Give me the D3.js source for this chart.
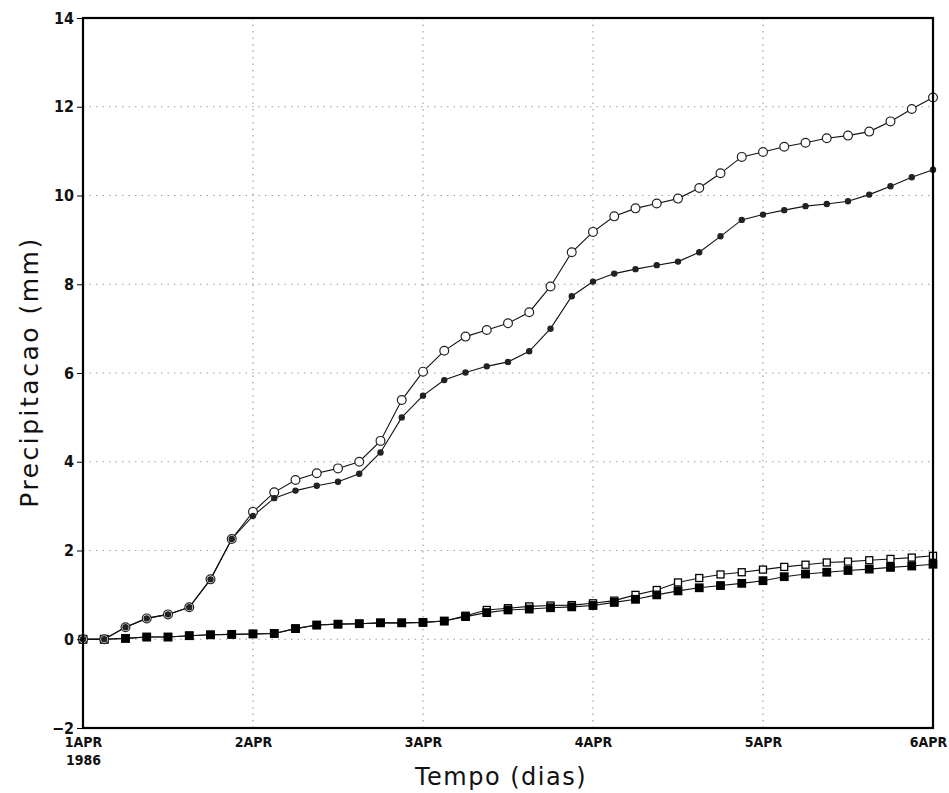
<!DOCTYPE html>
<html>
<head>
<meta charset="utf-8">
<script src="https://cdn.jsdelivr.net/npm/d3@7"></script>
<style>
  body { margin: 0; background: #fff; }
  svg { display: block; }
</style>
</head>
<body>
<div id="vis"></div>
<script>
// frame
const FRAME_WIDTH = 949;
const FRAME_HEIGHT = 793;
const MARGINS = {left: 83, right: 16, top: 18, bottom: 65};

// hours since 1APR 1986 00Z (3-hourly)
const HOURS = [0, 3, 6, 9, 12, 15, 18, 21, 24, 27, 30, 33, 36, 39, 42, 45, 48,
  51, 54, 57, 60, 63, 66, 69, 72, 75, 78, 81, 84, 87, 90, 93, 96, 99, 102,
  105, 108, 111, 114, 117, 120];

// accumulated precipitation (mm)
const OPEN_CIRCLE = [0, 0, 0.27, 0.47, 0.56, 0.72, 1.35, 2.26, 2.87, 3.31, 3.59,
  3.74, 3.85, 4.00, 4.47, 5.39, 6.03, 6.50, 6.82, 6.97, 7.12, 7.37, 7.95, 8.72,
  9.18, 9.53, 9.71, 9.82, 9.93, 10.17, 10.50, 10.87, 10.98, 11.10, 11.19,
  11.29, 11.35, 11.44, 11.67, 11.95, 12.21];
const FILLED_CIRCLE = [0, 0, 0.27, 0.47, 0.56, 0.72, 1.35, 2.26, 2.78, 3.18, 3.35,
  3.46, 3.55, 3.73, 4.21, 5.00, 5.49, 5.84, 6.01, 6.15, 6.25, 6.49, 7.00, 7.73,
  8.06, 8.24, 8.34, 8.43, 8.51, 8.72, 9.08, 9.45, 9.57, 9.67, 9.76, 9.81,
  9.87, 10.02, 10.21, 10.41, 10.58];
const OPEN_SQUARE = [0, 0, 0.02, 0.05, 0.05, 0.08, 0.10, 0.11, 0.12, 0.13, 0.24,
  0.32, 0.34, 0.35, 0.37, 0.37, 0.38, 0.41, 0.53, 0.66, 0.70, 0.74, 0.76, 0.77,
  0.81, 0.87, 1.00, 1.11, 1.28, 1.38, 1.46, 1.51, 1.57, 1.63, 1.68, 1.73,
  1.75, 1.78, 1.81, 1.84, 1.88];
const FILLED_SQUARE = [0, 0, 0.02, 0.05, 0.05, 0.08, 0.10, 0.11, 0.12, 0.13, 0.24,
  0.32, 0.34, 0.35, 0.37, 0.37, 0.38, 0.41, 0.51, 0.60, 0.66, 0.68, 0.71, 0.73,
  0.76, 0.83, 0.90, 1.00, 1.09, 1.16, 1.21, 1.26, 1.32, 1.41, 1.47, 1.51,
  1.55, 1.58, 1.62, 1.65, 1.69];

// axis ticks
const Y_TICKS = [-2, 0, 2, 4, 6, 8, 10, 12, 14];
const Y_GRID = [0, 2, 4, 6, 8, 10, 12];
const X_TICKS = [0, 24, 48, 72, 96, 120];
const X_TICK_LABELS = ["1APR", "2APR", "3APR", "4APR", "5APR", "6APR"];
const X_GRID = [24, 48, 72, 96];

const VIS_WIDTH = FRAME_WIDTH - MARGINS.left - MARGINS.right;
const VIS_HEIGHT = FRAME_HEIGHT - MARGINS.top - MARGINS.bottom;
const TICK_FONT = "'DejaVu Sans Condensed', 'DejaVu Sans', sans-serif";
const TITLE_FONT = "'DejaVu Sans', sans-serif";

const FRAME = d3.select("#vis")
  .append("svg")
    .attr("width", FRAME_WIDTH)
    .attr("height", FRAME_HEIGHT);

const X_SCALE = d3.scaleLinear()
  .domain([0, 120])
  .range([MARGINS.left, MARGINS.left + VIS_WIDTH]);

const Y_SCALE = d3.scaleLinear()
  .domain([-2, 14])
  .range([MARGINS.top + VIS_HEIGHT, MARGINS.top]);

// dotted grid
FRAME.append("g")
  .selectAll("line")
  .data(Y_GRID)
  .enter()
  .append("line")
    .attr("x1", X_SCALE(0))
    .attr("x2", X_SCALE(120))
    .attr("y1", (d) => Y_SCALE(d))
    .attr("y2", (d) => Y_SCALE(d))
    .attr("stroke", "#a0a0a0")
    .attr("stroke-width", 1.2)
    .attr("stroke-dasharray", "1.5,5");

FRAME.append("g")
  .selectAll("line")
  .data(X_GRID)
  .enter()
  .append("line")
    .attr("x1", (d) => X_SCALE(d))
    .attr("x2", (d) => X_SCALE(d))
    .attr("y1", Y_SCALE(14))
    .attr("y2", Y_SCALE(-2))
    .attr("stroke", "#a0a0a0")
    .attr("stroke-width", 1.2)
    .attr("stroke-dasharray", "1.5,5");

// lines
const line = (vals) => d3.line()
  .x((d, i) => X_SCALE(HOURS[i]))
  .y((d) => Y_SCALE(d))(vals);

[OPEN_SQUARE, FILLED_SQUARE, OPEN_CIRCLE, FILLED_CIRCLE].forEach((vals) => {
  FRAME.append("path")
    .attr("d", line(vals))
    .attr("fill", "none")
    .attr("stroke", "#111")
    .attr("stroke-width", 1.1);
});

// markers
function squares(vals, fill, size) {
  FRAME.append("g")
    .selectAll("rect")
    .data(vals)
    .enter()
    .append("rect")
      .attr("x", (d, i) => X_SCALE(HOURS[i]) - size / 2)
      .attr("y", (d) => Y_SCALE(d) - size / 2)
      .attr("width", size)
      .attr("height", size)
      .attr("fill", fill)
      .attr("stroke", "#000")
      .attr("stroke-width", 1.3);
}

function circles(vals, fill, r) {
  FRAME.append("g")
    .selectAll("circle")
    .data(vals)
    .enter()
    .append("circle")
      .attr("cx", (d, i) => X_SCALE(HOURS[i]))
      .attr("cy", (d) => Y_SCALE(d))
      .attr("r", r)
      .attr("fill", fill)
      .attr("stroke", "#222")
      .attr("stroke-width", 1.2);
}

squares(OPEN_SQUARE, "#fff", 7);
squares(FILLED_SQUARE, "#000", 7.5);
circles(OPEN_CIRCLE, "#fff", 4.4);
circles(FILLED_CIRCLE, "#222", 2.6);

// axes
const yAxis = FRAME.append("g")
  .attr("transform", "translate(" + MARGINS.left + ",0)")
  .call(d3.axisLeft(Y_SCALE).tickValues(Y_TICKS).tickSize(6).tickSizeOuter(0).tickPadding(3)
    .tickFormat((d) => d < 0 ? "\u2212" + Math.abs(d) : d));
yAxis.selectAll("text")
  .attr("font-family", TICK_FONT)
  .attr("font-weight", "bold")
  .attr("font-size", 16)
  .attr("fill", "#111");

const xAxis = FRAME.append("g")
  .attr("transform", "translate(0," + (MARGINS.top + VIS_HEIGHT) + ")")
  .call(d3.axisBottom(X_SCALE).tickValues(X_TICKS).tickSize(0).tickPadding(9)
    .tickFormat((d, i) => X_TICK_LABELS[i]));
xAxis.selectAll("text")
  .attr("font-family", TICK_FONT)
  .attr("font-weight", "bold")
  .attr("font-size", 14)
  .attr("fill", "#111");
// last label sits against the page edge
xAxis.selectAll(".tick text")
  .filter((d) => d === 120)
  .attr("dx", -5);
xAxis.selectAll(".tick")
  .filter((d) => d === 0)
  .append("text")
    .attr("y", 27)
    .attr("dy", "0.71em")
    .attr("text-anchor", "middle")
    .attr("font-family", TICK_FONT)
    .attr("font-weight", "bold")
    .attr("font-size", 14)
    .attr("fill", "#111")
    .text("1986");

FRAME.selectAll(".domain").remove();

// frame border
FRAME.append("rect")
  .attr("x", X_SCALE(0))
  .attr("y", Y_SCALE(14))
  .attr("width", VIS_WIDTH)
  .attr("height", VIS_HEIGHT)
  .attr("fill", "none")
  .attr("stroke", "#000")
  .attr("stroke-width", 2.2);

// axis titles
FRAME.append("text")
  .attr("x", 501)
  .attr("y", 785)
  .attr("text-anchor", "middle")
  .attr("font-family", TITLE_FONT)
  .attr("font-size", 24)
  .attr("letter-spacing", 1.5)
  .attr("fill", "#111")
  .text("Tempo (dias)");

FRAME.append("text")
  .attr("transform", "translate(38,372) rotate(-90)")
  .attr("text-anchor", "middle")
  .attr("font-family", TITLE_FONT)
  .attr("font-size", 25)
  .attr("letter-spacing", 2.5)
  .attr("fill", "#111")
  .text("Precipitacao (mm)");
</script>
</body>
</html>
